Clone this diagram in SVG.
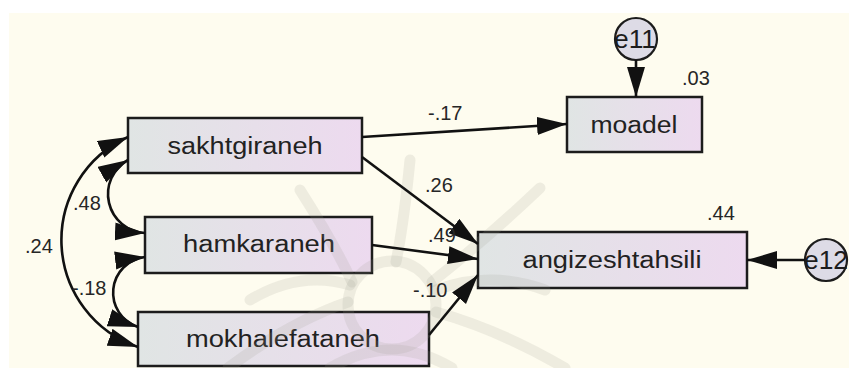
<svg xmlns="http://www.w3.org/2000/svg" width="849" height="368" viewBox="0 0 849 368">
  <defs>
    <linearGradient id="boxFill" x1="0" y1="0" x2="1" y2="0">
      <stop offset="0" stop-color="#e0e5e4"/>
      <stop offset="1" stop-color="#eddaef"/>
    </linearGradient>
    <marker id="head" markerUnits="userSpaceOnUse" markerWidth="32" markerHeight="20" refX="30" refY="9" orient="auto-start-reverse">
      <path d="M0,0 L30,9 L0,18 z" fill="#111"/>
    </marker>
    <style>
      .box { fill: url(#boxFill); stroke: #1c1c1c; stroke-width: 2.5; }
      .err { fill: #dddbe6; stroke: #1c1c1c; stroke-width: 2.2; }
      .lbl { font-family: "Liberation Sans", Arial, sans-serif; font-size: 23px; fill: #222; text-anchor: middle; }
      .elbl { font-family: "Liberation Sans", Arial, sans-serif; font-size: 25px; fill: #1c1c1c; text-anchor: middle; }
      .num { font-family: "Liberation Sans", Arial, sans-serif; font-size: 20px; fill: #262626; }
      .path { fill: none; stroke: #111; stroke-width: 2.6; }
      .wm { fill: none; stroke: #9c9a92; stroke-width: 11; stroke-linecap: round; opacity: 0.16; }
    </style>
  </defs>

  <!-- page background -->
  <rect x="0" y="0" width="849" height="368" fill="#ffffff"/>
  <rect x="9" y="13" width="840" height="355" fill="#fefcef"/>

  <!-- observed variables -->
  <g id="sakhtgiraneh">
    <rect class="box" x="128" y="118" width="234" height="55"/>
    <text class="lbl" x="245" y="154" textLength="155" lengthAdjust="spacingAndGlyphs">sakhtgiraneh</text>
  </g>
  <g id="hamkaraneh">
    <rect class="box" x="145" y="217" width="227" height="56"/>
    <text class="lbl" x="259" y="252" textLength="152" lengthAdjust="spacingAndGlyphs">hamkaraneh</text>
  </g>
  <g id="mokhalefataneh">
    <rect class="box" x="138" y="312" width="291" height="54"/>
    <text class="lbl" x="283" y="347" textLength="194" lengthAdjust="spacingAndGlyphs">mokhalefataneh</text>
  </g>
  <g id="moadel">
    <rect class="box" x="567" y="97" width="135" height="55"/>
    <text class="lbl" x="634" y="133" textLength="87" lengthAdjust="spacingAndGlyphs">moadel</text>
  </g>
  <g id="angizeshtahsili">
    <rect class="box" x="478" y="232" width="269" height="56"/>
    <text class="lbl" x="612" y="268" textLength="179" lengthAdjust="spacingAndGlyphs">angizeshtahsili</text>
  </g>

  <!-- error terms -->
  <g id="e11">
    <circle class="err" cx="636" cy="39" r="21"/>
    <text class="elbl" x="635" y="48" textLength="42" lengthAdjust="spacingAndGlyphs">e11</text>
  </g>
  <g id="e12">
    <circle class="err" cx="826" cy="260" r="21"/>
    <text class="elbl" x="826" y="269" textLength="44" lengthAdjust="spacingAndGlyphs">e12</text>
  </g>

  <!-- faint emblem drawn over the canvas -->
  <g id="emblem">
    <path class="wm" d="M300,190 Q335,245 352,282"/>
    <path class="wm" d="M410,160 Q404,222 396,262"/>
    <path class="wm" d="M540,188 Q485,240 432,282"/>
    <circle class="wm" cx="392" cy="305" r="44"/>
    <path class="wm" d="M228,368 Q290,322 348,302"/>
    <path class="wm" d="M565,368 Q500,330 436,312"/>
    <path class="wm" d="M330,368 Q392,332 452,368"/>
    <path class="wm" d="M250,300 Q300,270 350,285"/>
    <path class="wm" d="M545,290 Q490,270 436,290"/>
  </g>

  <!-- regression paths and covariances -->
  <g id="connectors">
    <path class="path" d="M362,137 L567,124" marker-end="url(#head)"/>
    <path class="path" d="M636,60 L636,97" marker-end="url(#head)"/>
    <path class="path" d="M362,157 L478,244" marker-end="url(#head)"/>
    <path class="path" d="M372,245 L478,259" marker-end="url(#head)"/>
    <path class="path" d="M429,335 L478,275" marker-end="url(#head)"/>
    <path class="path" d="M805,260 L747,260" marker-end="url(#head)"/>
    <path class="path" d="M128,137 A113,113 0 0 0 138,347" marker-start="url(#head)" marker-end="url(#head)"/>
    <path class="path" d="M128,160 A39,39 0 0 0 145,233" marker-start="url(#head)" marker-end="url(#head)"/>
    <path class="path" d="M145,257 A36,36 0 0 0 138,327" marker-start="url(#head)" marker-end="url(#head)"/>
  </g>

  <!-- estimates -->
  <g id="estimates">
    <text class="num" x="428" y="120">-.17</text>
    <text class="num" x="682" y="85">.03</text>
    <text class="num" x="425" y="192">.26</text>
    <text class="num" x="428" y="242">.49</text>
    <text class="num" x="413" y="297">-.10</text>
    <text class="num" x="707" y="220">.44</text>
    <text class="num" x="73" y="210">.48</text>
    <text class="num" x="25" y="253">.24</text>
    <text class="num" x="72" y="295">-.18</text>
  </g>
</svg>
